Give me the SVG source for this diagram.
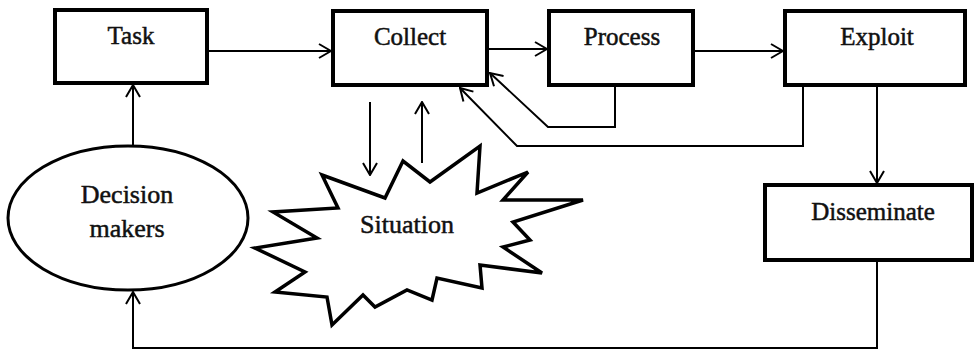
<svg xmlns="http://www.w3.org/2000/svg" width="975" height="350" viewBox="0 0 975 350">
<style>
.box{fill:#fff;stroke:#000;stroke-width:4}
.lbl{font-family:"Liberation Serif","Times New Roman",serif;font-size:25px;fill:#111;stroke:#111;stroke-width:0.5;text-anchor:middle}
.con{fill:none;stroke:#000;stroke-width:2}
</style>
<defs>
<marker id="ah" markerUnits="userSpaceOnUse" markerWidth="14" markerHeight="16" viewBox="0 0 14 16" refX="13" refY="8" orient="auto">
<path d="M1,1 L13,8 L1,15" fill="none" stroke="#000" stroke-width="2"/>
</marker>
</defs>
<rect width="975" height="350" fill="#fff"/>
<g id="connectors">
<line class="con" x1="207" y1="51" x2="331" y2="51" marker-end="url(#ah)"/>
<line class="con" x1="487" y1="49" x2="547" y2="49" marker-end="url(#ah)"/>
<line class="con" x1="693" y1="51" x2="783" y2="51" marker-end="url(#ah)"/>
<polyline class="con" points="615,85 615,127 548,127 490,73" marker-end="url(#ah)"/>
<polyline class="con" points="803,85 803,146 517,146 460,88" marker-end="url(#ah)"/>
<line class="con" x1="877" y1="85" x2="877" y2="183" marker-end="url(#ah)"/>
<polyline class="con" points="877,260 877,348 133,348 133,292" marker-end="url(#ah)"/>
<line class="con" x1="133" y1="146" x2="133" y2="85" marker-end="url(#ah)"/>
<line class="con" x1="370" y1="102" x2="370" y2="175" marker-end="url(#ah)"/>
<line class="con" x1="422" y1="163" x2="422" y2="102" marker-end="url(#ah)"/>
</g>
<g id="task">
<rect class="box" x="55" y="10" width="152" height="73"/>
<text class="lbl" x="131" y="44">Task</text>
</g>
<g id="collect">
<rect class="box" x="333" y="11" width="154" height="74"/>
<text class="lbl" x="410" y="45">Collect</text>
</g>
<g id="process">
<rect class="box" x="549" y="11" width="144" height="74"/>
<text class="lbl" x="622" y="45">Process</text>
</g>
<g id="exploit">
<rect class="box" x="785" y="11" width="180" height="74"/>
<text class="lbl" x="877" y="45">Exploit</text>
</g>
<g id="disseminate">
<rect class="box" x="765" y="185" width="207" height="75"/>
<text class="lbl" x="873" y="220">Disseminate</text>
</g>
<g id="decision-makers">
<ellipse cx="128" cy="218" rx="120" ry="72" fill="#fff" stroke="#000" stroke-width="3"/>
<text class="lbl" x="127" y="203" style="font-size:26px">Decision</text>
<text class="lbl" x="127" y="237" style="font-size:26px">makers</text>
</g>
<g id="situation">
<polygon points="322,175 385,198 403,161 430,182 480,146 477,193 528,172 503,200 583,200 513,222 530,240 503,247 542,273 480,265 482,288 437,278 432,300 407,290 375,307 363,295 332,325 327,297 275,292 305,272 255,248 317,238 273,212 338,208" fill="#fff" stroke="#000" stroke-width="3.5" stroke-linejoin="miter"/>
<text class="lbl" x="407" y="233" style="font-size:26px">Situation</text>
</g>
</svg>
